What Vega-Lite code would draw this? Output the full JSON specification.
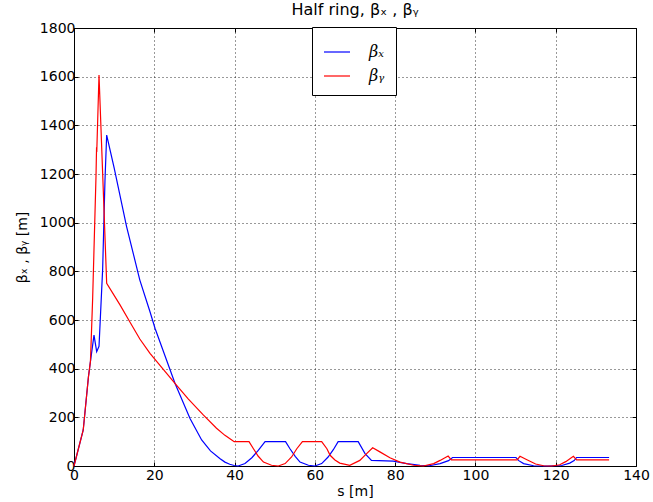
{
  "$schema": "https://vega.github.io/schema/vega-lite/v6.json",
  "width": 562,
  "height": 438,
  "autosize": {"type": "none"},
  "padding": {"left": 74, "top": 28, "right": 17, "bottom": 36},
  "background": "white",
  "title": {"text": "Half ring, βₓ , βᵧ", "font": "DejaVu Sans", "fontSize": 16, "fontWeight": "normal", "color": "black", "anchor": "middle", "offset": 3},
  "config": {
    "view": {"stroke": "black", "strokeWidth": 1},
    "axis": {
      "labelFont": "DejaVu Sans", "labelFontSize": 14, "labelColor": "black", "labelFlush": false, "labelOverlap": false,
      "titleFont": "DejaVu Sans", "titleFontSize": 14, "titleFontWeight": "normal", "titleColor": "black",
      "tickColor": "black", "tickSize": -4, "domain": false,
      "gridColor": "black", "gridDash": [1, 3], "gridWidth": 1, "gridOpacity": 0.8
    }
  },
  "data": {"values": [
    {"s":0,"b":0,"series":"βₓ"},{"s":2.3,"b":148,"series":"βₓ"},{"s":3.6,"b":367,"series":"βₓ"},{"s":4.1,"b":430,"series":"βₓ"},{"s":4.98,"b":538,"series":"βₓ"},{"s":5.65,"b":470,"series":"βₓ"},{"s":6.23,"b":492,"series":"βₓ"},{"s":7.14,"b":810,"series":"βₓ"},{"s":7.72,"b":1175,"series":"βₓ"},{"s":8.14,"b":1360,"series":"βₓ"},{"s":10,"b":1225,"series":"βₓ"},{"s":13.1,"b":984,"series":"βₓ"},{"s":16.4,"b":764,"series":"βₓ"},{"s":18.93,"b":634,"series":"βₓ"},{"s":20.2,"b":565,"series":"βₓ"},{"s":25.15,"b":340,"series":"βₓ"},{"s":28.9,"b":195,"series":"βₓ"},{"s":31.8,"b":107,"series":"βₓ"},{"s":34,"b":62,"series":"βₓ"},{"s":36.4,"b":30,"series":"βₓ"},{"s":37.6,"b":16,"series":"βₓ"},{"s":38.8,"b":7,"series":"βₓ"},{"s":39.9,"b":2,"series":"βₓ"},{"s":40.9,"b":0,"series":"βₓ"},{"s":42.6,"b":10,"series":"βₓ"},{"s":44.3,"b":34,"series":"βₓ"},{"s":45.9,"b":64,"series":"βₓ"},{"s":47.6,"b":100,"series":"βₓ"},{"s":52.7,"b":100,"series":"βₓ"},{"s":53.8,"b":71,"series":"βₓ"},{"s":55.1,"b":40,"series":"βₓ"},{"s":56.3,"b":16,"series":"βₓ"},{"s":58.4,"b":3,"series":"βₓ"},{"s":60,"b":0,"series":"βₓ"},{"s":61.7,"b":10,"series":"βₓ"},{"s":63.3,"b":37,"series":"βₓ"},{"s":64.6,"b":67,"series":"βₓ"},{"s":65.8,"b":100,"series":"βₓ"},{"s":70.8,"b":100,"series":"βₓ"},{"s":72.5,"b":51,"series":"βₓ"},{"s":74.1,"b":23,"series":"βₓ"},{"s":79.5,"b":20,"series":"βₓ"},{"s":82.9,"b":10,"series":"βₓ"},{"s":86.2,"b":3,"series":"βₓ"},{"s":88.5,"b":1,"series":"βₓ"},{"s":91.2,"b":10,"series":"βₓ"},{"s":93.3,"b":22,"series":"βₓ"},{"s":94.3,"b":35,"series":"βₓ"},{"s":110.1,"b":35,"series":"βₓ"},{"s":110.8,"b":22,"series":"βₓ"},{"s":112,"b":10,"series":"βₓ"},{"s":114.5,"b":1,"series":"βₓ"},{"s":118,"b":0,"series":"βₓ"},{"s":121.5,"b":2,"series":"βₓ"},{"s":123.5,"b":12,"series":"βₓ"},{"s":124.6,"b":22,"series":"βₓ"},{"s":125.2,"b":35,"series":"βₓ"},{"s":133.3,"b":35,"series":"βₓ"},
    {"s":0,"b":0,"series":"βᵧ"},{"s":2.3,"b":148,"series":"βᵧ"},{"s":3.6,"b":367,"series":"βᵧ"},{"s":4.1,"b":430,"series":"βᵧ"},{"s":4.65,"b":690,"series":"βᵧ"},{"s":5.48,"b":1190,"series":"βᵧ"},{"s":5.62,"b":1310,"series":"βᵧ"},{"s":5.67,"b":1290,"series":"βᵧ"},{"s":6.23,"b":1607,"series":"βᵧ"},{"s":7.3,"b":1130,"series":"βᵧ"},{"s":8.14,"b":751,"series":"βᵧ"},{"s":11.46,"b":662,"series":"βᵧ"},{"s":14,"b":590,"series":"βᵧ"},{"s":16.4,"b":522,"series":"βᵧ"},{"s":18.93,"b":463,"series":"βᵧ"},{"s":25.15,"b":340,"series":"βᵧ"},{"s":28.5,"b":275,"series":"βᵧ"},{"s":32.2,"b":210,"series":"βᵧ"},{"s":35.5,"b":155,"series":"βᵧ"},{"s":37.6,"b":126,"series":"βᵧ"},{"s":39.3,"b":107,"series":"βᵧ"},{"s":39.9,"b":100,"series":"βᵧ"},{"s":43.6,"b":100,"series":"βᵧ"},{"s":44.7,"b":71,"series":"βᵧ"},{"s":45.9,"b":40,"series":"βᵧ"},{"s":47.2,"b":16,"series":"βᵧ"},{"s":49.2,"b":3,"series":"βᵧ"},{"s":50.9,"b":0,"series":"βᵧ"},{"s":52.6,"b":10,"series":"βᵧ"},{"s":54.2,"b":37,"series":"βᵧ"},{"s":55.5,"b":71,"series":"βᵧ"},{"s":56.9,"b":100,"series":"βᵧ"},{"s":61.7,"b":100,"series":"βᵧ"},{"s":63.0,"b":71,"series":"βᵧ"},{"s":63.8,"b":44,"series":"βᵧ"},{"s":65.0,"b":25,"series":"βᵧ"},{"s":66.2,"b":12,"series":"βᵧ"},{"s":68.7,"b":3,"series":"βᵧ"},{"s":71.2,"b":23,"series":"βᵧ"},{"s":72.9,"b":51,"series":"βᵧ"},{"s":74.4,"b":75,"series":"βᵧ"},{"s":76.2,"b":58,"series":"βᵧ"},{"s":78.7,"b":34,"series":"βᵧ"},{"s":81.2,"b":16,"series":"βᵧ"},{"s":84.6,"b":3,"series":"βᵧ"},{"s":87,"b":0,"series":"βᵧ"},{"s":89.6,"b":10,"series":"βᵧ"},{"s":91.2,"b":23,"series":"βᵧ"},{"s":93.2,"b":41,"series":"βᵧ"},{"s":94.0,"b":25,"series":"βᵧ"},{"s":110.4,"b":25,"series":"βᵧ"},{"s":111.1,"b":40,"series":"βᵧ"},{"s":112.7,"b":27,"series":"βᵧ"},{"s":115,"b":8,"series":"βᵧ"},{"s":117,"b":1,"series":"βᵧ"},{"s":119,"b":0,"series":"βᵧ"},{"s":121,"b":5,"series":"βᵧ"},{"s":122.5,"b":18,"series":"βᵧ"},{"s":124.4,"b":40,"series":"βᵧ"},{"s":125.2,"b":25,"series":"βᵧ"},{"s":133.3,"b":25,"series":"βᵧ"}
  ]},
  "layer": [
    {
      "mark": {"type": "line", "strokeWidth": 1.2, "interpolate": "linear"},
      "encoding": {
        "x": {"field": "s", "type": "quantitative", "scale": {"domain": [0, 140], "nice": false, "zero": false},
              "axis": {"title": "s [m]", "values": [0,20,40,60,80,100,120,140], "grid": true, "labelPadding": 6, "titlePadding": 2, "orient": "bottom"}},
        "y": {"field": "b", "type": "quantitative", "scale": {"domain": [0, 1800], "nice": false},
              "axis": {"title": "βₓ , βᵧ [m]", "format": "d", "values": [0,200,400,600,800,1000,1200,1400,1600,1800], "grid": true, "labelPadding": 3, "titlePadding": 10, "orient": "left"}},
        "color": {"field": "series", "type": "nominal",
                  "scale": {"domain": ["βₓ", "βᵧ"], "range": ["#0000ff", "#ff0000"]},
                  "legend": {"title": null, "orient": "none", "legendX": 238, "legendY": -1,
                             "strokeColor": "black", "fillColor": "white", "padding": 11,
                             "symbolType": "stroke", "symbolSize": 676, "symbolStrokeWidth": 1.2,
                             "labelFont": "DejaVu Serif", "labelFontStyle": "italic", "labelFontSize": 16,
                             "labelColor": "black", "labelOffset": 18, "rowPadding": 2, "cornerRadius": 0}}
      }
    },
    {
      "mark": {"type": "point", "opacity": 0},
      "encoding": {
        "x": {"field": "s", "type": "quantitative", "scale": {"domain": [0, 140], "nice": false, "zero": false}, "axis": {"orient": "top", "labels": false, "title": null, "grid": false, "values": [0,20,40,60,80,100,120,140]}},
        "y": {"field": "b", "type": "quantitative", "scale": {"domain": [0, 1800], "nice": false}, "axis": {"orient": "right", "labels": false, "title": null, "grid": false, "values": [0,200,400,600,800,1000,1200,1400,1600,1800]}}
      }
    }
  ],
  "resolve": {"axis": {"x": "independent", "y": "independent"}}
}
